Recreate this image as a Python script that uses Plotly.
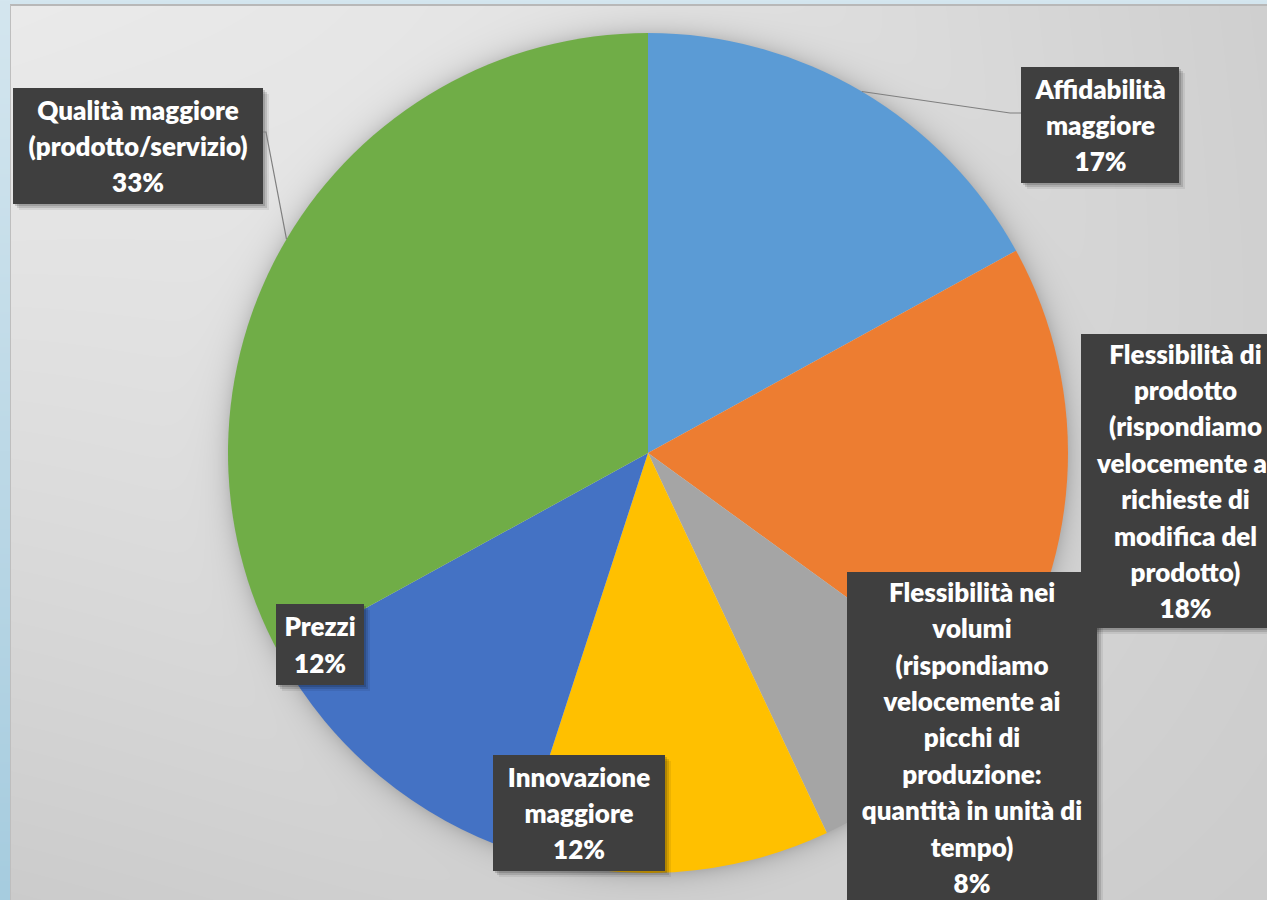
import base64
import math
import struct
import zlib

import numpy as np
import plotly.graph_objects as go

# ---- data -------------------------------------------------------------
categories = [
    "Affidabilità maggiore",
    "Flessibilità di prodotto (rispondiamo velocemente ai richieste di modifica del prodotto)",
    "Flessibilità nei volumi (rispondiamo velocemente ai picchi di produzione: quantità in unità di tempo)",
    "Innovazione maggiore",
    "Prezzi",
    "Qualità maggiore (prodotto/servizio)",
]
shares = [17, 18, 8, 12, 12, 33]
label_lines = [
    ["Affidabilità", "maggiore"],
    ["Flessibilità di", "prodotto", "(rispondiamo", "velocemente ai", "richieste di", "modifica del", "prodotto)"],
    ["Flessibilità nei", "volumi", "(rispondiamo", "velocemente ai", "picchi di", "produzione:",
     "quantità in unità di", "tempo)"],
    ["Innovazione", "maggiore"],
    ["Prezzi"],
    ["Qualità maggiore", "(prodotto/servizio)"],
]
slice_colors = ["#5B9BD5", "#ED7D31", "#A5A5A5", "#FFC000", "#4472C4", "#70AD47"]

# ---- page geometry ----------------------------------------------------
W, H = 1267, 900
pie_dom_x = [228 / W, 1068 / W]
pie_dom_y = [1 - 873 / H, 1 - 33 / H]

cx = (pie_dom_x[0] + pie_dom_x[1]) / 2 * W
cy = (1 - (pie_dom_y[0] + pie_dom_y[1]) / 2) * H
radius = min((pie_dom_x[1] - pie_dom_x[0]) * W, (pie_dom_y[1] - pie_dom_y[0]) * H) / 2

# label boxes: left, top, width, height (px)
boxes = [
    (1021, 67, 158, 116),
    (1081, 334, 208, 294),
    (847, 572, 250, 331),
    (493, 755, 172, 116),
    (276, 604, 88, 81),
    (13, 88, 250, 116),
]


def png_data_uri(rgb):
    h, w, _ = rgb.shape
    arr = rgb.astype(np.int16)
    up = arr.copy()
    up[1:] = (arr[1:] - arr[:-1]) % 256
    filt = np.full((h, 1), 2, np.uint8)
    raw = np.hstack([filt, up.astype(np.uint8).reshape(h, w * 3)]).tobytes()

    def chunk(tag, data):
        return (struct.pack(">I", len(data)) + tag + data
                + struct.pack(">I", zlib.crc32(tag + data) & 0xFFFFFFFF))

    png = (b"\x89PNG\r\n\x1a\n"
           + chunk(b"IHDR", struct.pack(">IIBBBBB", w, h, 8, 2, 0, 0, 0))
           + chunk(b"IDAT", zlib.compress(raw, 9))
           + chunk(b"IEND", b""))
    return "data:image/png;base64," + base64.b64encode(png).decode()


# ---- background: slide border, gradient chart area, soft pie shadow ----
yy, xx = np.mgrid[0:H, 0:W].astype(float)
d = np.hypot(xx - cx, yy - cy)
gray = (232 - 0.022 * xx - 0.035 * yy + 0.000025 * xx * yy
        + 14 * np.exp(-d ** 2 / (2 * 450.0 ** 2)))
outside = np.clip(d - radius, 0, None)
gray -= np.where(d > radius - 2, 34 * np.exp(-outside / 11.0), 0)
img = np.repeat(gray[:, :, None], 3, axis=2)

# slide colour around the chart frame
t = yy / H
blue = np.stack([212 - 46 * t, 230 - 26 * t, 239 - 16 * t], axis=2)
frame = (xx < 11) | (yy < 5)
img[frame] = blue[frame]
img[(yy >= 4) & (yy < 6) & (xx >= 10)] = [184, 184, 184]
img[(xx >= 10) & (xx < 11) & (yy >= 5)] = [190, 190, 190]
img = np.clip(img, 0, 255)

fig = go.Figure()
fig.add_trace(go.Pie(
    labels=categories,
    values=shares,
    sort=False,
    direction="clockwise",
    rotation=0,
    marker=dict(colors=slice_colors, line=dict(width=0)),
    textinfo="none",
    hoverinfo="label+percent",
    domain=dict(x=pie_dom_x, y=pie_dom_y),
    showlegend=False,
))

shapes = []
annotations = []
for lines, val, (bl, bt, bw, bh) in zip(label_lines, shares, boxes):
    # drop shadow under the label box
    for off, alpha in [(6, 0.07), (4, 0.12), (2, 0.15)]:
        shapes.append(dict(
            type="rect", xref="paper", yref="paper", layer="above",
            x0=(bl + off) / W, x1=(bl + bw + off) / W,
            y0=1 - (bt + bh + off) / H, y1=1 - (bt + off) / H,
            fillcolor=f"rgba(0,0,0,{alpha})", line=dict(width=0),
        ))
    text = "<br>".join(lines + [f"{val}%"])
    annotations.append(dict(
        xref="paper", yref="paper", x=bl / W, y=1 - bt / H,
        xanchor="left", yanchor="top",
        width=bw, height=bh, borderpad=0, borderwidth=0,
        bgcolor="#3f3f3f", align="center", valign="middle",
        showarrow=False,
        text=f'<span style="font-size:26px">{text}</span>',
        font=dict(family="Lato", size=28, color="white", weight=800),
    ))

# leader lines from slice mid-angles to their label boxes
cum = np.cumsum([0] + shares)
total = float(sum(shares))


def edge_point(i):
    ang = 2 * math.pi * (cum[i] + shares[i] / 2) / total
    return cx + radius * math.sin(ang), cy - radius * math.cos(ang)


leaders = {0: [(1010, 113), (1021, 113)], 5: [(266, 132), (263, 132)]}
for i, pts in leaders.items():
    px, py = edge_point(i)
    path = f"M {px / W} {1 - py / H}"
    for (qx, qy) in pts:
        path += f" L {qx / W} {1 - qy / H}"
    shapes.append(dict(type="path", xref="paper", yref="paper", path=path,
                       line=dict(color="#7f7f7f", width=1.2), layer="above"))

fig.update_layout(
    width=W, height=H,
    margin=dict(l=0, r=0, t=0, b=0),
    paper_bgcolor="#d8d8d8",
    plot_bgcolor="rgba(0,0,0,0)",
    images=[dict(source=png_data_uri(img), xref="paper", yref="paper",
                 x=0, y=1, sizex=1, sizey=1, sizing="stretch",
                 xanchor="left", yanchor="top", layer="below")],
    shapes=shapes,
    annotations=annotations,
)

fig.write_html("out.html")
